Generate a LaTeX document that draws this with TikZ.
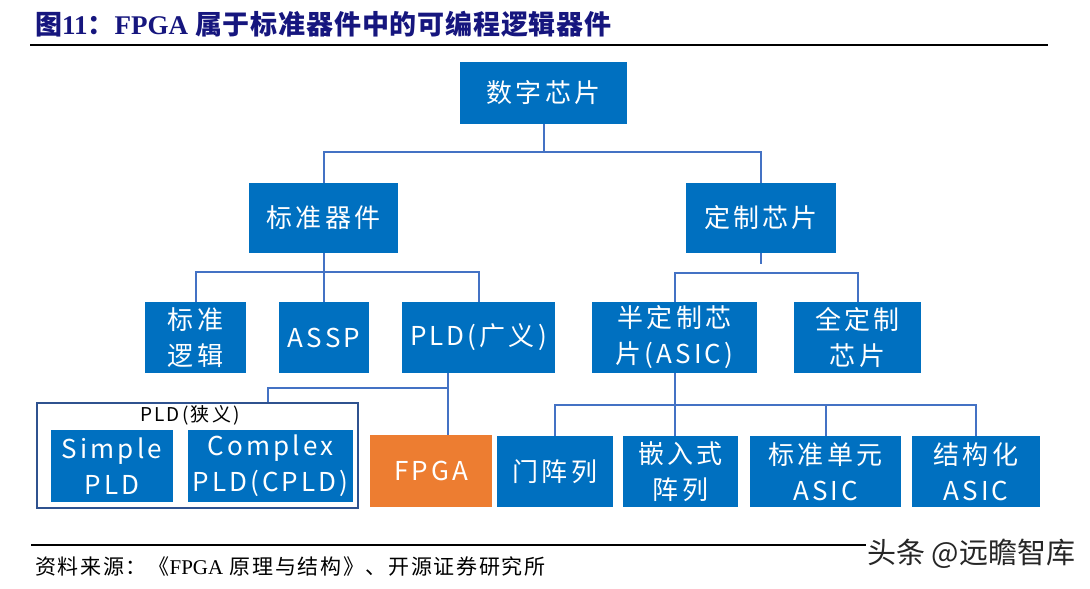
\documentclass[tikz,border=0pt]{standalone}
\usepackage{fontspec}
\newfontfamily\cjk[LetterSpace=12]{Noto Sans CJK SC}
\newfontfamily\cjkplain{Noto Sans CJK SC}
\newfontfamily\cjktitle[LetterSpace=3]{Noto Sans CJK SC}
\newfontfamily\cjkfoot[LetterSpace=8]{Noto Sans CJK SC}
\newfontfamily\serifl{Liberation Serif}
\definecolor{boxblue}{HTML}{0070C0}
\definecolor{linkblue}{HTML}{4472C4}
\definecolor{framecol}{HTML}{2F528F}
\definecolor{fpgaor}{HTML}{ED7D31}
\definecolor{titlenavy}{HTML}{16167E}
\begin{document}
\begin{tikzpicture}[x=1pt,y=-1pt,
  blk/.style={fill=boxblue, text=white, inner sep=0pt, align=center,
    font=\cjk\fontsize{26}{36}\selectfont},
  conn/.style={draw=linkblue, line width=2pt},
  rule/.style={draw=black, line width=2pt}]
\useasboundingbox (0,0) rectangle (1090,589);
% title
\node[anchor=west, inner sep=0pt, text=titlenavy, font=\cjktitle\bfseries\fontsize{27}{30}\selectfont] (title) at (35,24)
  {图{\serifl\bfseries 11}：{\serifl\bfseries FPGA} 属于标准器件中的可编程逻辑器件};
\coordinate (tl) at (30,45);
\coordinate (tr) at (1048,45);
\draw[rule] (tl) -- (tr);
% level 0
\node[blk, minimum width=167, minimum height=62] (top) at (543.5,93) {数字芯片};
% level 1
\node[blk, minimum width=149, minimum height=70] (std) at (323.5,218) {标准器件};
\node[blk, minimum width=150, minimum height=70] (cust) at (761,218) {定制芯片};
% level 2
\node[blk, minimum width=101, minimum height=71] (stdlogic) at (195.5,337.5) {标准\\逻辑};
\node[blk, minimum width=90, minimum height=71] (assp) at (324,337.5) {ASSP};
\node[blk, minimum width=153, minimum height=71] (pldw) at (478.5,337.5) {PLD(广义)};
\node[blk, minimum width=165, minimum height=71] (semi) at (674.5,337.5) {半定制芯\\片(ASIC)};
\node[blk, minimum width=127, minimum height=71] (full) at (857.5,337.5) {全定制\\芯片};
% level 3
\node[draw=framecol, line width=1.5pt, fill=white, minimum width=321, minimum height=105, inner sep=0pt] (outer) at (197.5,455.5) {};
\node[font=\cjk\fontsize{19}{22}\selectfont, inner sep=0pt] (outerlbl) at (190,415) {PLD(狭义)};
\node[blk, minimum width=122, minimum height=72] (simple) at (112,466) {Simple\\PLD};
\node[blk, minimum width=165, minimum height=72] (complex) at (270.5,466) {Complex\\PLD(CPLD)};
\node[blk, fill=fpgaor, minimum width=122, minimum height=72] (fpga) at (431,471) {FPGA};
\node[blk, minimum width=116, minimum height=71] (gate) at (555,471.5) {门阵列};
\node[blk, minimum width=115, minimum height=71] (embed) at (680.5,471.5) {嵌入式\\阵列};
\node[blk, minimum width=151, minimum height=71] (stdasic) at (825.5,471.5) {标准单元\\ASIC};
\node[blk, minimum width=128, minimum height=71] (struct) at (976,471.5) {结构化\\ASIC};
% connectors
\draw[conn] (top.south) -- ++(0,28) -| (std.north);
\draw[conn] (top.south) -- ++(0,28) -| (cust.north);
\draw[conn] (std.south) -- ++(0,19) -| (stdlogic.north);
\draw[conn] (std.south) -- (assp.north -| std.south);
\draw[conn] (std.south) -- ++(0,19) -| (pldw.north);
\draw[conn] (cust.south) -- ++(0,11);
\draw[conn] (semi.north) -- ++(0,-29) -| (full.north);
\draw[conn] ([xshift=-30.5]pldw.south) -- ([xshift=17]fpga.north);
\draw[conn] ([xshift=-30.5]pldw.south) -- ++(0,15) -| ([xshift=70.5]outer.north);
\draw[conn] (semi.south) -- (semi.south |- embed.north);
\draw[conn] (semi.south) -- ++(0,32) -| (gate.north);
\draw[conn] (semi.south) -- ++(0,32) -| (stdasic.north);
\draw[conn] (semi.south) -- ++(0,32) -| (struct.north);
% footer
\coordinate (bl) at (31,545);
\coordinate (br) at (1048,545);
\draw[draw=black, line width=1.5pt] (bl) -- (br);
\node[anchor=west, inner sep=0pt, font=\cjkfoot\fontsize{21}{24}\selectfont] (src) at (35,567)
  {资料来源：《{\serifl FPGA} 原理与结构》、开源证券研究所};
\node[anchor=west, fill=white, inner sep=1pt, text=black!85, font=\cjkplain\fontsize{29}{30}\selectfont] (wm) at (866,554) {头条 @远瞻智库};
\end{tikzpicture}
\end{document}
